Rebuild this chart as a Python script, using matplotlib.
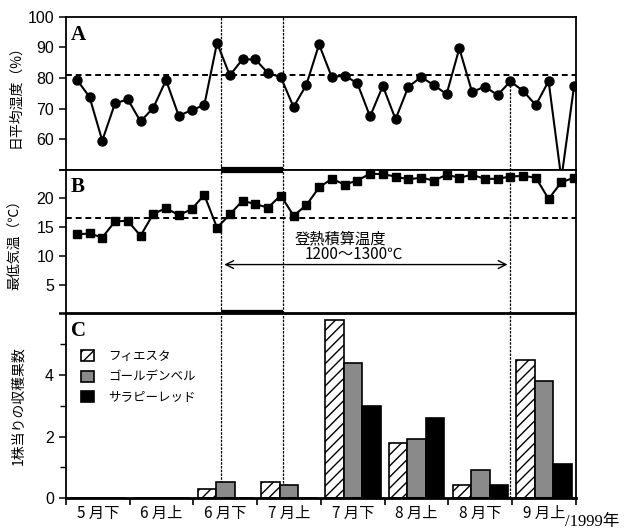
import numpy as np
import matplotlib.pyplot as plt

plt.rcParams['font.family'] = ['Noto Sans CJK JP', 'DejaVu Sans']

# 2-day readings, 5月下 to 9月上 (each decade drawn 10 days wide)
humidity = [79.5, 73.8, 59.5, 71.7, 73.0, 65.8, 70.2, 79.3, 67.6, 69.5,
            71.1, 91.5, 80.9, 86.1, 86.1, 81.6, 80.3, 70.5, 77.7, 91.0,
            80.3, 80.8, 78.3, 67.4, 77.4, 66.5, 77.1, 80.3, 77.7, 74.7,
            89.7, 75.4, 77.2, 74.4, 78.9, 75.8, 71.1, 79.0, 47.0, 77.4]
min_temp = [13.75, 13.9, 13.2, 16.0, 16.1, 13.5, 17.3, 18.3, 17.1, 18.1,
            20.6, 14.9, 17.2, 19.6, 19.0, 18.4, 20.5, 17.0, 18.8, 21.9,
            23.4, 22.4, 23.1, 24.3, 24.2, 23.8, 23.3, 23.6, 23.1, 24.1,
            23.6, 24.1, 23.4, 23.4, 23.8, 23.9, 23.6, 19.9, 22.8, 23.6]
day = np.arange(len(humidity)) * 2 + 1.7

periods = ['5 月下', '6 月上', '6 月下', '7 月上', '7 月下', '8 月上', '8 月下', '9 月上']
varieties = ['フィエスタ', 'ゴールデンベル', 'サラピーレッド']
fiesta = [0, 0, 0.30, 0.51, 5.78, 1.80, 0.41, 4.50]
golden = [0, 0, 0.51, 0.41, 4.40, 1.91, 0.91, 3.80]
salapi = [0, 0, 0, 0, 3.00, 2.60, 0.43, 1.11]

hum_mean = 81.0
temp_mean = 16.65
flower_start, flower_end, harvest_day = 24.4, 34.1, 69.7

fig = plt.figure(figsize=(6.4, 5.3), dpi=100)
ax_a = fig.add_axes([0.103, 0.680, 0.797, 0.288])
ax_b = fig.add_axes([0.103, 0.4085, 0.797, 0.2715])
ax_c = fig.add_axes([0.103, 0.0604, 0.797, 0.348])

num_font = dict(family='Liberation Sans', size=11.5)

for ax in (ax_a, ax_b, ax_c):
    ax.set_xlim(0, 80)
    for s in ax.spines.values():
        s.set_linewidth(1.3)
    ax.tick_params(axis='y', direction='out', length=5, width=1.1)

# A: humidity
ax_a.plot(day, humidity, '-o', color='black', lw=1.5, ms=6.5)
ax_a.axhline(hum_mean, color='black', lw=1.4, ls=(0, (3, 2)))
ax_a.axvline(flower_start, color='black', lw=0.9, ls=(0, (2, 1)))
ax_a.axvline(flower_end, color='black', lw=0.9, ls=(0, (2, 1)))
ax_a.plot([harvest_day, harvest_day], [50, humidity[34]], color='black', lw=0.9, ls=(0, (2, 1)))
ax_a.set_ylim(50, 100)
ax_a.set_yticks([50, 60, 70, 80, 90, 100])
ax_a.set_yticklabels(['', '60', '70', '80', '90', '100'], **num_font)
ax_a.set_xticks([])
ax_a.set_ylabel('日平均湿度（%）', fontsize=10, labelpad=4)
ax_a.text(0.010, 0.95, 'A', transform=ax_a.transAxes, va='top',
          family='Liberation Serif', fontsize=15, fontweight='bold')

# B: minimum temperature
ax_b.plot(day, min_temp, '-s', color='black', lw=1.5, ms=6)
ax_b.axhline(temp_mean, color='black', lw=1.4, ls=(0, (3, 2)))
for xv in (flower_start, flower_end, harvest_day):
    ax_b.axvline(xv, color='black', lw=0.9, ls=(0, (2, 1)))
ax_b.set_ylim(0, 25)
ax_b.set_yticks([0, 5, 10, 15, 20, 25])
ax_b.set_yticklabels(['', '5', '10', '15', '20', ''], **num_font)
ax_b.set_xticks([])
ax_b.set_ylabel('最低気温（℃）', fontsize=10, labelpad=10)
ax_b.text(0.010, 0.95, 'B', transform=ax_b.transAxes, va='top',
          family='Liberation Serif', fontsize=15, fontweight='bold')
ax_b.annotate('', xy=(flower_start, 8.5), xytext=(harvest_day, 8.5),
              arrowprops=dict(arrowstyle='<->', color='black', lw=1.0,
                              mutation_scale=14))
ax_b.text(43, 13.0, '登熱積算温度', ha='center', va='center', fontsize=11)
ax_b.text(45.2, 10.3, '1200〜1300℃', ha='center', va='center', fontsize=11)
xt = ax_b.get_xaxis_transform()
for yv in (0, 1):
    ax_b.plot([flower_start, flower_end], [yv, yv], color='black', lw=4.5,
              transform=xt, clip_on=False, solid_capstyle='butt', zorder=5)

# C: harvest
centers = np.arange(len(periods)) * 10 + 5
w = 2.9
ax_c.bar(centers - w, fiesta, w, facecolor='white', edgecolor='black',
         hatch='///', lw=1.2, label=varieties[0])
ax_c.bar(centers, golden, w, facecolor='#8a8a8a', edgecolor='black',
         lw=1.2, label=varieties[1])
ax_c.bar(centers + w, salapi, w, facecolor='black', edgecolor='black',
         lw=1.2, label=varieties[2])
for xv in (flower_start, flower_end, harvest_day):
    ax_c.axvline(xv, color='black', lw=0.9, ls=(0, (2, 1)), zorder=0)
ax_c.set_ylim(0, 6)
ax_c.set_yticks([0, 2, 4, 6])
ax_c.set_yticklabels(['0', '2', '4', ''], **num_font)
ax_c.set_yticks([1, 3, 5], minor=True)
ax_c.tick_params(axis='y', which='minor', direction='out', length=4, width=1.0)
ax_c.set_xticks(np.arange(0, 81, 10))
ax_c.set_xticklabels([])
ax_c.set_xticks(centers, minor=True)
ax_c.set_xticklabels(periods, minor=True, fontsize=11)
ax_c.tick_params(axis='x', which='major', direction='out', length=5, width=1.2)
ax_c.tick_params(axis='x', which='minor', length=0, pad=5)
ax_c.spines['bottom'].set_linewidth(2)
ax_c.set_ylabel('1株当りの収穫果数', fontsize=10, labelpad=14)
ax_c.text(0.010, 0.96, 'C', transform=ax_c.transAxes, va='top',
          family='Liberation Serif', fontsize=15, fontweight='bold')
ax_c.legend(loc='upper left', bbox_to_anchor=(0.02, 0.83), frameon=False,
            fontsize=9, handlelength=1.0, handleheight=1.0, handletextpad=1.2,
            labelspacing=0.6, borderaxespad=0)

fig.text(0.883, 0.008, '/1999年', fontsize=12, family=['Liberation Serif', 'Noto Sans CJK JP'])

fig.savefig('out.png', dpi=100)
